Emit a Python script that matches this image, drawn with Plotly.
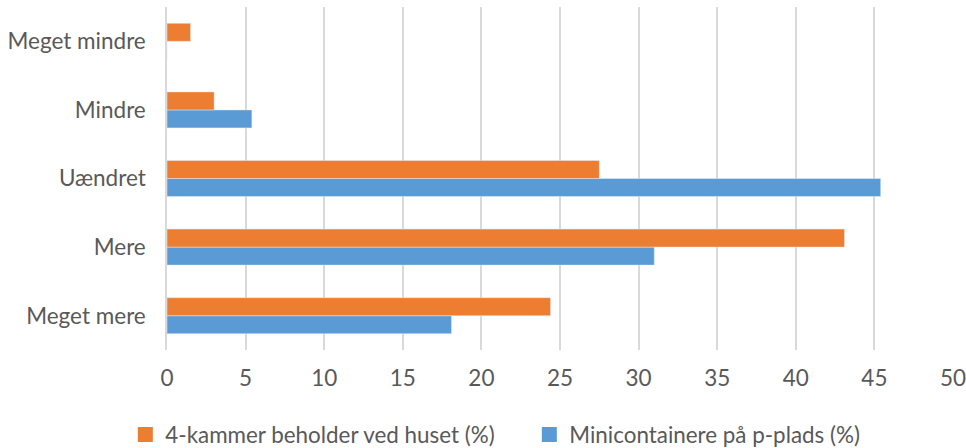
import plotly.graph_objects as go

categories = ["Meget mere", "Mere", "Uændret", "Mindre", "Meget mindre"]
series_orange_name = "4-kammer beholder ved huset (%)"
series_blue_name = "Minicontainere på p-plads (%)"
orange_values = [24.4, 43.1, 27.5, 3.0, 1.5]
blue_values = [18.1, 31.0, 45.4, 5.4, 0]
x_ticks = [0, 5, 10, 15, 20, 25, 30, 35, 40, 45, 50]

ORANGE = "#ED7D31"
BLUE = "#5B9BD5"

fig = go.Figure()
fig.add_trace(go.Bar(y=categories, x=blue_values, name=series_blue_name, orientation="h",
                     marker=dict(color=BLUE), showlegend=False))
fig.add_trace(go.Bar(y=categories, x=orange_values, name=series_orange_name, orientation="h",
                     marker=dict(color=ORANGE), showlegend=False))
# legend entries (square swatches)
fig.add_trace(go.Scatter(x=[None], y=[None], mode="markers", name=series_orange_name,
                         marker=dict(symbol="square", size=15, color=ORANGE), legendrank=1))
fig.add_trace(go.Scatter(x=[None], y=[None], mode="markers", name=series_blue_name,
                         marker=dict(symbol="square", size=15, color=BLUE), legendrank=2))

font_family = "Lato, Open Sans, sans-serif"
fig.update_layout(
    width=966, height=448,
    margin=dict(l=167, r=13, t=7, b=98, autoexpand=False),
    paper_bgcolor="white", plot_bgcolor="white",
    barmode="group", bargap=0.475, bargroupgap=0,
    font=dict(family=font_family, size=22.5, color="#595959"),
    showlegend=True,
    legend=dict(orientation="h", x=-0.053, xanchor="left", y=-0.248, yanchor="middle",
                font=dict(size=22.4, color="#595959"), traceorder="normal",
                itemwidth=30, entrywidth=359, tracegroupgap=0),
    xaxis=dict(range=[0, 50], tickvals=x_ticks, showgrid=True, gridcolor="#D9D9D9", gridwidth=1.5,
               zeroline=False, showline=False, ticks="", ticklabelstandoff=12, automargin=False,
               ticklabeloverflow="allow",
               tickfont=dict(size=22.5, color="#595959")),
    yaxis=dict(showgrid=False, showline=True, linecolor="#D9D9D9", linewidth=1.5, automargin=False,
               ticks="", ticklabelstandoff=15, tickfont=dict(size=22.5, color="#595959")),
)
fig.write_html("out.html", post_script="document.body.style.margin='0';",
               config={"displayModeBar": False})
